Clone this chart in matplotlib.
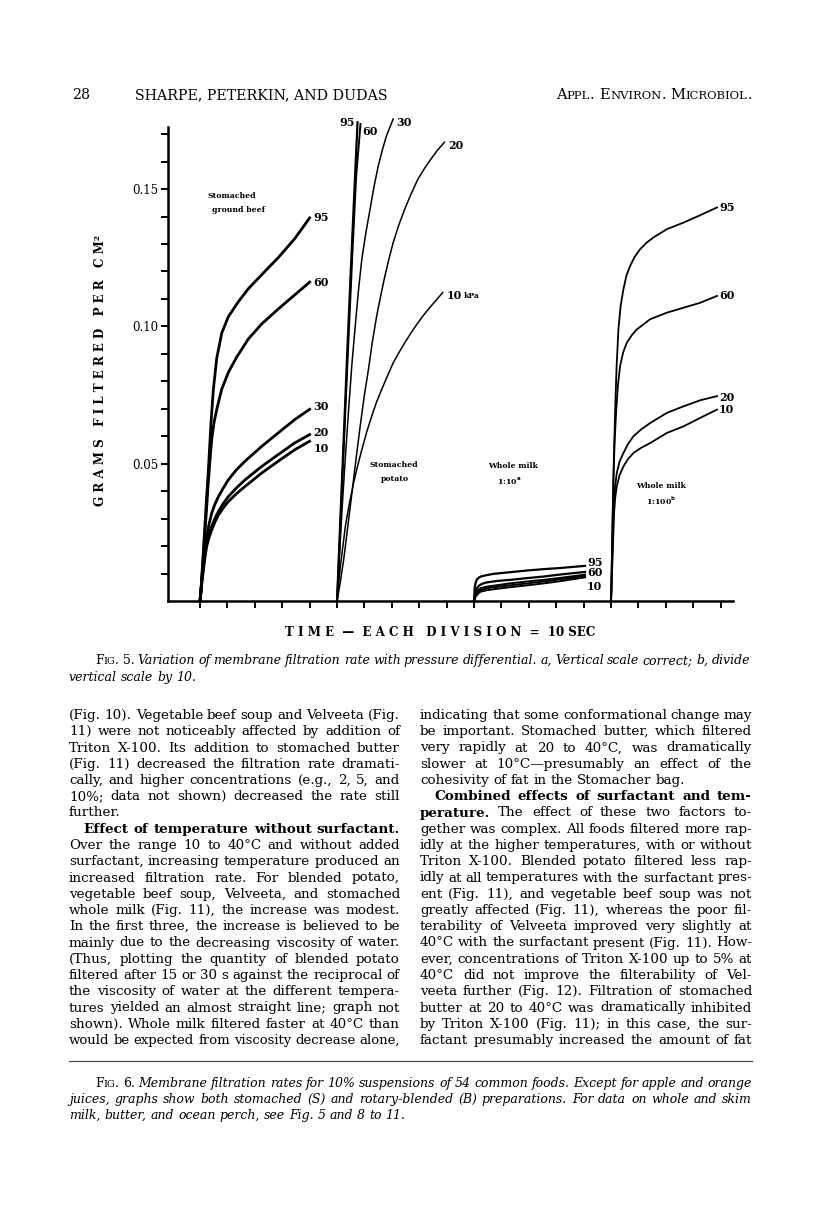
import re
import numpy as np
import matplotlib
matplotlib.use("Agg")
import matplotlib.pyplot as plt
from matplotlib.lines import Line2D

# ---- data (time in s from the start of each run, g/cm2) ----
beef_95_t = [0, 0.36, 1.2, 1.8, 2.4, 3.0, 3.5, 4.0, 4.85, 6.1, 7.9, 10.3, 14.0, 17.6, 22.5, 28.5, 34.6, 40.0]
beef_95_v = [0, 0.004, 0.018, 0.028, 0.038, 0.047, 0.056, 0.065, 0.077, 0.0885, 0.0975, 0.1035, 0.109, 0.1137, 0.1188, 0.125, 0.132, 0.1395]
beef_60_t = [0, 0.36, 1.2, 1.8, 2.4, 3.0, 3.6, 4.25, 5.1, 6.1, 7.9, 10.3, 13.3, 17.6, 22.5, 28.5, 34.6, 40.0]
beef_60_v = [0, 0.004, 0.016, 0.025, 0.034, 0.043, 0.051, 0.0588, 0.065, 0.0698, 0.0771, 0.0832, 0.0887, 0.0954, 0.1009, 0.1063, 0.1115, 0.1161]
beef_lo_t = [0, 0.6, 1.2, 1.8, 2.4, 3.3, 4.25, 5.4, 6.7, 8.4, 10.3, 13.3, 16.4, 22.5, 28.5, 34.6, 40.0]
beef_30_v = [0, 0.0075, 0.0137, 0.019, 0.0234, 0.028, 0.032, 0.0352, 0.038, 0.041, 0.0441, 0.0478, 0.0509, 0.0563, 0.0612, 0.0661, 0.0698]
beef_20_v = [0, 0.0068, 0.0124, 0.0172, 0.021, 0.0245, 0.0271, 0.0300, 0.0326, 0.0354, 0.038, 0.0412, 0.0441, 0.049, 0.0533, 0.0576, 0.0606]
beef_10_v = [0, 0.0062, 0.0112, 0.0160, 0.0198, 0.0232, 0.0259, 0.0287, 0.0313, 0.0338, 0.0362, 0.0391, 0.0417, 0.0466, 0.0509, 0.0551, 0.0582]

potato_95_t = [0, 1.2, 2.41, 3.61, 4.82, 6.02, 7.47]
potato_95_v = [0, 0.0296, 0.0588, 0.088, 0.116, 0.1427, 0.1743]
potato_60_t = [0, 1.45, 2.77, 4.22, 5.66, 6.99, 8.55]
potato_60_v = [0, 0.0332, 0.0636, 0.0965, 0.1281, 0.1549, 0.1737]
potato_30_t = [0, 0.9, 1.81, 3.0, 4.22, 5.4, 6.63, 7.8, 9.04, 10.5, 12.05, 13.5, 15.06, 16.6, 18.07, 20.48]
potato_30_v = [0, 0.0168, 0.0332, 0.0520, 0.0697, 0.0860, 0.1001, 0.1130, 0.1245, 0.1340, 0.1427, 0.1510, 0.1585, 0.1645, 0.1695, 0.1755]
potato_20_t = [0, 1.2, 2.41, 3.9, 5.42, 6.9, 8.43, 9.9, 11.45, 12.9, 14.46, 16.0, 17.47, 19.0, 20.48, 22.5, 24.7, 27.0, 29.5, 31.9, 34.3, 36.7, 39.16]
potato_20_v = [0, 0.0070, 0.015, 0.0270, 0.0393, 0.0515, 0.0636, 0.0745, 0.0843, 0.0945, 0.1038, 0.1115, 0.1184, 0.1248, 0.1305, 0.1368, 0.1427, 0.1482, 0.1536, 0.1575, 0.161, 0.1642, 0.167]
potato_10_t = [0, 1.2, 3.01, 4.5, 6.02, 7.5, 9.04, 10.8, 12.65, 14.4, 16.27, 18.4, 20.48, 22.6, 24.7, 27.1, 29.5, 31.9, 34.3, 36.4, 38.55]
potato_10_v = [0, 0.0125, 0.0271, 0.0355, 0.0429, 0.0492, 0.0551, 0.0615, 0.0673, 0.0724, 0.077, 0.0820, 0.0867, 0.0905, 0.094, 0.0978, 0.1013, 0.1045, 0.1074, 0.1098, 0.1123]

milk10_95_t = [0, 0.24, 0.6, 0.96, 1.6, 2.41, 4.5, 7.23, 13.25, 19.28, 25.3, 31.3, 40.5]
milk10_95_v = [0, 0.005, 0.0068, 0.0077, 0.0084, 0.0089, 0.0094, 0.0099, 0.0105, 0.0111, 0.0116, 0.012, 0.0128]
milk10_60_t = [0, 0.3, 0.6, 1.2, 1.81, 3.0, 4.82, 8.5, 13.25, 19.0, 25.3, 32.0, 40.5]
milk10_60_v = [0, 0.0026, 0.0038, 0.0049, 0.0056, 0.0063, 0.0068, 0.0073, 0.0077, 0.0083, 0.0089, 0.0097, 0.0106]
milk10_lo_t = [0, 0.4, 0.84, 1.6, 2.41, 4.5, 7.23, 13.0, 19.28, 25.3, 31.3, 40.5]
milk10_30_v = [0, 0.0022, 0.0032, 0.0041, 0.0047, 0.0052, 0.0056, 0.0064, 0.0071, 0.0077, 0.0084, 0.0096]
milk10_20_v = [0, 0.0018, 0.0026, 0.0034, 0.004, 0.0046, 0.005, 0.0057, 0.0064, 0.0071, 0.0079, 0.0091]
milk10_10_v = [0, 0.0012, 0.0019, 0.0028, 0.0034, 0.0039, 0.0043, 0.005, 0.0057, 0.0064, 0.0072, 0.0086]

milk100_95_t = [0, 0.61, 1.0, 1.46, 2.0, 2.68, 3.5, 4.51, 5.6, 6.95, 8.6, 10.61, 13.0, 15.49, 20.37, 26.46, 32.56, 38.66]
milk100_95_v = [0, 0.032, 0.051, 0.0685, 0.085, 0.0989, 0.1075, 0.1135, 0.1185, 0.122, 0.1253, 0.1281, 0.1305, 0.1324, 0.1354, 0.1378, 0.1405, 0.1433]
milk100_60_t = [0, 0.85, 1.3, 1.83, 2.5, 3.29, 4.4, 5.73, 7.5, 9.39, 14.27, 20.37, 26.46, 32.56, 38.66]
milk100_60_v = [0, 0.0442, 0.058, 0.0685, 0.0785, 0.0855, 0.0905, 0.094, 0.0967, 0.0989, 0.1026, 0.105, 0.1068, 0.1086, 0.1111]
milk100_20_t = [0, 0.85, 1.4, 2.07, 3.1, 4.51, 6.2, 8.17, 11.0, 14.27, 20.37, 26.46, 32.56, 38.66]
milk100_20_v = [0, 0.032, 0.041, 0.0466, 0.0508, 0.0539, 0.0572, 0.06, 0.0625, 0.0648, 0.0685, 0.0709, 0.0731, 0.0746]
milk100_10_t = [0, 1.1, 1.5, 2.07, 3.1, 4.51, 6.2, 8.17, 11.0, 14.27, 20.37, 26.46, 32.56, 38.66]
milk100_10_v = [0, 0.032, 0.0375, 0.0417, 0.0458, 0.049, 0.0517, 0.0539, 0.0558, 0.0575, 0.0612, 0.0636, 0.0667, 0.0697]

panel_start = {'beef': 0, 'potato': 50, 'milk10': 100, 'milk100': 150}
y_ticks = [i / 100 for i in range(1, 18)]
y_labels = {0.05: '0.05', 0.10: '0.10', 0.15: '0.15'}

# text of the page
left_col = [
    "(Fig. 10). Vegetable beef soup and Velveeta (Fig.",
    "11) were not noticeably affected by addition of",
    "Triton X-100. Its addition to stomached butter",
    "(Fig. 11) decreased the filtration rate dramati-",
    "cally, and higher concentrations (e.g., 2, 5, and",
    "10%; data not shown) decreased the rate still",
    "further.",
    "<b>Effect of temperature without surfactant.</b>",
    "Over the range 10 to 40°C and without added",
    "surfactant, increasing temperature produced an",
    "increased filtration rate. For blended potato,",
    "vegetable beef soup, Velveeta, and stomached",
    "whole milk (Fig. 11), the increase was modest.",
    "In the first three, the increase is believed to be",
    "mainly due to the decreasing viscosity of water.",
    "(Thus, plotting the quantity of blended potato",
    "filtered after 15 or 30 s against the reciprocal of",
    "the viscosity of water at the different tempera-",
    "tures yielded an almost straight line; graph not",
    "shown). Whole milk filtered faster at 40°C than",
    "would be expected from viscosity decrease alone,",
]
right_col = [
    "indicating that some conformational change may",
    "be important. Stomached butter, which filtered",
    "very rapidly at 20 to 40°C, was dramatically",
    "slower at 10°C—presumably an effect of the",
    "cohesivity of fat in the Stomacher bag.",
    "<b>Combined effects of surfactant and tem-</b>",
    "<b>perature.</b> The effect of these two factors to-",
    "gether was complex. All foods filtered more rap-",
    "idly at the higher temperatures, with or without",
    "Triton X-100. Blended potato filtered less rap-",
    "idly at all temperatures with the surfactant pres-",
    "ent (Fig. 11), and vegetable beef soup was not",
    "greatly affected (Fig. 11), whereas the poor fil-",
    "terability of Velveeta improved very slightly at",
    "40°C with the surfactant present (Fig. 11). How-",
    "ever, concentrations of Triton X-100 up to 5% at",
    "40°C did not improve the filterability of Vel-",
    "veeta further (Fig. 12). Filtration of stomached",
    "butter at 20 to 40°C was dramatically inhibited",
    "by Triton X-100 (Fig. 11); in this case, the sur-",
    "factant presumably increased the amount of fat",
]
left_para_end = {6}
left_indent = {7}
right_para_end = {4}
right_indent = {5}

fig5_caption = [
    "<r><sc>Fig.</sc> 5.</r> Variation of membrane filtration rate with pressure differential. a, Vertical scale correct; b, divide",
    "vertical scale by 10.",
]
fig6_caption = [
    "<r><sc>Fig.</sc> 6.</r> Membrane filtration rates for 10% suspensions of 54 common foods. Except for apple and orange",
    "juices, graphs show both stomached (S) and rotary-blended (B) preparations. For data on whole and skim",
    "milk, butter, and ocean perch, see Fig. 5 and 8 to 11.",
]

W, H = 816, 1213
SERIF = 'DejaVu Serif'
fig = plt.figure(figsize=(W / 100, H / 100), dpi=100)
renderer = fig.canvas.get_renderer()


def fx(x):
    return x / W


def fy(y):
    return 1 - y / H


def put(x, y, s, **kw):
    kw.setdefault('family', SERIF)
    return fig.text(fx(x), fy(y), s, **kw)


def parse(markup, italic):
    st = {'b': False, 'i': italic, 'sc': False}
    words = []
    for tok in re.split(r'(</?(?:b|r|sc)>)', markup):
        if tok == '<b>':
            st['b'] = True
        elif tok == '</b>':
            st['b'] = False
        elif tok == '<r>':
            st['i'] = False
        elif tok == '</r>':
            st['i'] = italic
        elif tok == '<sc>':
            st['sc'] = True
        elif tok == '</sc>':
            st['sc'] = False
        else:
            for w in tok.split(' '):
                if w:
                    words.append((w, dict(st)))
    return words


def pieces(word, st, size):
    if not st['sc']:
        return [(word, size)]
    out = []
    for ch in word:
        item = (ch.upper(), size * 0.78) if ch.islower() else (ch, size)
        if out and out[-1][1] == item[1]:
            out[-1] = (out[-1][0] + item[0], item[1])
        else:
            out.append(item)
    return out


def space_px(size):
    a = put(0, 0, 'x x', fontsize=size)
    b = put(0, 0, 'xx', fontsize=size)
    d = a.get_window_extent(renderer).width - b.get_window_extent(renderer).width
    a.remove()
    b.remove()
    return d


def text_line(x0, x1, y, markup, size, italic=False, align='justify'):
    objs = []
    for w, st in parse(markup, italic):
        ts = []
        for s, fs in pieces(w, st, size):
            t = put(0, y, s, fontsize=fs, va='baseline',
                    fontweight='bold' if st['b'] else 'normal',
                    fontstyle='italic' if st['i'] else 'normal')
            ts.append((t, t.get_window_extent(renderer).width))
        objs.append(ts)
    total = sum(wd for ts in objs for _, wd in ts)
    sp = space_px(size)
    need = total + 0.75 * sp * (len(objs) - 1)
    if align == 'justify' and need > x1 - x0:
        # too long at this size: redo the line a little smaller
        for ts in objs:
            for t, _ in ts:
                t.remove()
        return text_line(x0, x1, y, markup, size * (x1 - x0) / need * 0.995, italic, align)
    if align == 'justify' and len(objs) > 1:
        gap = (x1 - x0 - total) / (len(objs) - 1)
    else:
        gap = sp
    x = x0
    if align == 'right':
        x = x1 - total - gap * (len(objs) - 1)
    for ts in objs:
        for t, wd in ts:
            t.set_x(fx(x))
            x += wd
        x += gap


BODY = 9.7
CAPTION = 9.0

# ---- header ----
put(72, 99, '28', fontsize=10.2, va='baseline')
put(135, 99, 'SHARPE, PETERKIN, AND DUDAS', fontsize=10.2, va='baseline')
text_line(555, 752, 99, '<sc>Appl. Environ. Microbiol.</sc>', 10.6, align='right')

# ---- chart ----
ax = fig.add_axes([fx(168), fy(601), fx(733) - fx(168), fy(127) - fy(601)])
ax.set_xlim(-11.7, 194.5)
ax.set_ylim(0, 0.1726)
ax.patch.set_visible(False)
for s in ['top', 'right']:
    ax.spines[s].set_visible(False)
for s in ['left', 'bottom']:
    ax.spines[s].set_linewidth(1.8)
ax.set_xticks(np.arange(0, 191, 10))
ax.set_xticklabels([])
ax.set_yticks(y_ticks)
ax.set_yticklabels([y_labels.get(round(v, 2), '') for v in y_ticks], family=SERIF, fontsize=8.5)
ax.tick_params(direction='out', length=5, width=1.4, pad=2)

series = [
    ('beef', beef_95_t, beef_95_v, 2.0, '95', (4, 0, 'left')),
    ('beef', beef_60_t, beef_60_v, 2.0, '60', (4, 0, 'left')),
    ('beef', beef_lo_t, beef_30_v, 2.0, '30', (4, 3, 'left')),
    ('beef', beef_lo_t, beef_20_v, 2.0, '20', (4, 2, 'left')),
    ('beef', beef_lo_t, beef_10_v, 2.0, '10', (4, -7, 'left')),
    ('potato', potato_95_t, potato_95_v, 1.6, '95', (-3, 0, 'right')),
    ('potato', potato_60_t, potato_60_v, 1.4, '60', (2, -8, 'left')),
    ('potato', potato_30_t, potato_30_v, 1.1, '30', (3, -3, 'left')),
    ('potato', potato_20_t, potato_20_v, 1.1, '20', (4, -3, 'left')),
    ('potato', potato_10_t, potato_10_v, 1.1, '10', (4, -3, 'left')),
    ('milk10', milk10_95_t, milk10_95_v, 1.6, '95', (2, 3, 'left')),
    ('milk10', milk10_60_t, milk10_60_v, 1.6, '60', (2, -1, 'left')),
    ('milk10', milk10_lo_t, milk10_30_v, 1.4, None, None),
    ('milk10', milk10_lo_t, milk10_20_v, 1.4, None, None),
    ('milk10', milk10_lo_t, milk10_10_v, 1.4, '10', (2, -9, 'left')),
    ('milk100', milk100_95_t, milk100_95_v, 1.3, '95', (2, 0, 'left')),
    ('milk100', milk100_60_t, milk100_60_v, 1.3, '60', (2, 0, 'left')),
    ('milk100', milk100_20_t, milk100_20_v, 1.3, '20', (2, -1, 'left')),
    ('milk100', milk100_10_t, milk100_10_v, 1.3, '10', (2, 0, 'left')),
]
for panel, t, v, lw, lab, pos in series:
    tt = np.array(t) + panel_start[panel]
    ax.plot(tt, v, color='black', lw=lw, clip_on=False, solid_joinstyle='round')
    if lab:
        dx, dy, ha = pos
        ax.annotate(lab, xy=(tt[-1], v[-1]), xytext=(dx * 0.72, dy * 0.72),
                    textcoords='offset points', ha=ha, va='center', annotation_clip=False,
                    family=SERIF, fontweight='bold', fontsize=8)
ax.annotate('kPa', xy=(potato_10_t[-1] + panel_start['potato'], potato_10_v[-1]),
            xytext=(21 * 0.72, -3 * 0.72), textcoords='offset points', ha='left', va='center',
            family=SERIF, fontweight='bold', fontsize=5.5)

small = dict(fontsize=5.6, fontweight='bold', va='center')
put(207, 196, 'Stomached', **small)
put(212, 210, 'ground beef', **small)
put(370, 465, 'Stomached', **small)
put(381, 479, 'potato', **small)
put(488, 466, 'Whole milk', **small)
put(497, 481, r'1:10$^{\mathbf{a}}$', **small)
put(636, 486, 'Whole milk', **small)
put(646, 501, r'1:100$^{\mathbf{b}}$', **small)

put(101, 370, 'G R A M S   F I L T E R E D   P E R   C M²', rotation=90,
    ha='center', va='center', fontsize=8.6, fontweight='bold')
put(440, 632, 'T I M E  —  E A C H   D I V I S I O N  =  10 SEC',
    ha='center', va='center', fontsize=8.6, fontweight='bold')

# ---- captions and body text ----
text_line(95, 750, 664, fig5_caption[0], CAPTION, italic=True)
text_line(69, 750, 681, fig5_caption[1], CAPTION, italic=True, align='left')

for col, x0, x1, ends, ind in [(left_col, 69, 400, left_para_end, left_indent),
                               (right_col, 420, 752, right_para_end, right_indent)]:
    for i, line in enumerate(col):
        y = 719 + i * 16.25
        xs = x0 + (14 if i in ind else 0)
        text_line(xs, x1, y, line, BODY, align='left' if i in ends else 'justify')

fig.add_artist(Line2D([fx(69), fx(752)], [fy(1061), fy(1061)], color='0.3', lw=0.9))

text_line(95, 752, 1087, fig6_caption[0], CAPTION, italic=True)
text_line(69, 752, 1103, fig6_caption[1], CAPTION, italic=True)
text_line(69, 752, 1119, fig6_caption[2], CAPTION, italic=True, align='left')

fig.savefig('out.png', dpi=100)
